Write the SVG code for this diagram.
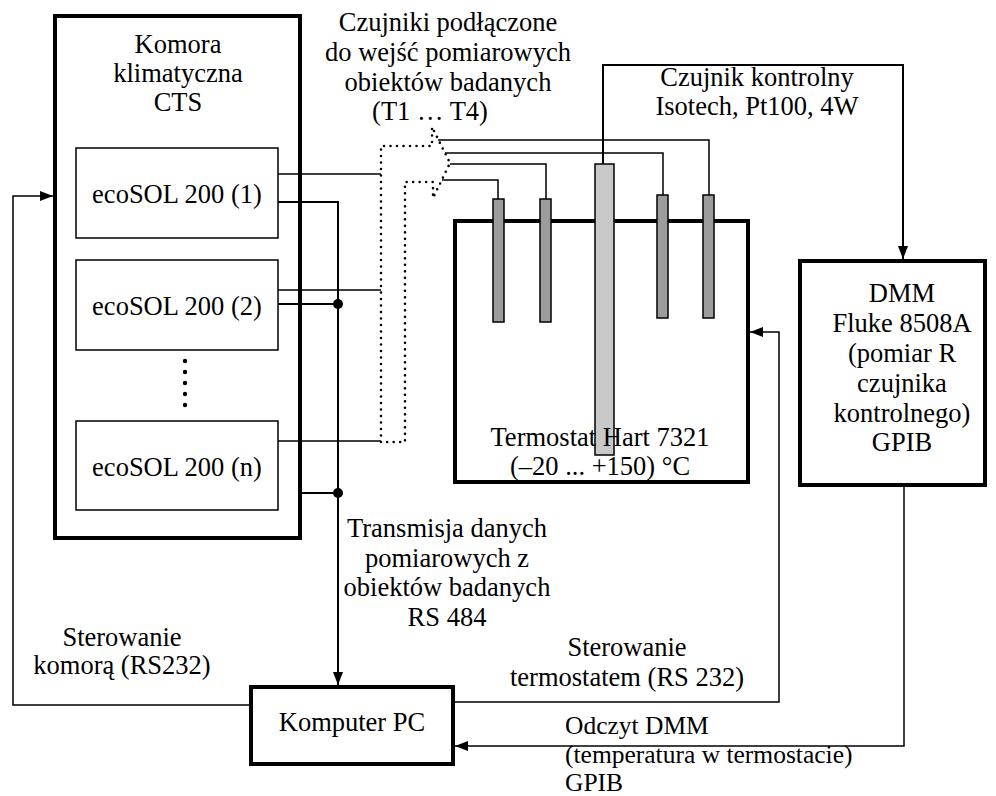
<svg xmlns="http://www.w3.org/2000/svg" width="996" height="796" viewBox="0 0 996 796">
  <style>
    text { font-family: "Liberation Serif", "Times New Roman", serif; font-size: 26.5px; fill: #000; }
    .c { text-anchor: middle; }
    .small { font-size: 25.5px; }
    .thick { fill: #fff; stroke: #000; stroke-width: 4; }
    .thin { fill: #fff; stroke: #000; stroke-width: 1.5; }
    .wire { fill: none; stroke: #000; stroke-width: 1.5; }
    .bus { fill: none; stroke: #000; stroke-width: 2; }
    .probe { fill: #9c9c9c; stroke: #000; stroke-width: 1.5; }
    .probe-ref { fill: #c8c8c8; stroke: #000; stroke-width: 1.5; }
    .dotted { fill: none; stroke: #000; stroke-width: 2.6; stroke-dasharray: 0 6.5; stroke-linecap: round; }
  </style>
  <defs>
    <marker id="arrow" viewBox="0 0 13 10" refX="13" refY="5" markerWidth="13" markerHeight="10" markerUnits="userSpaceOnUse" orient="auto">
      <path d="M0,0 L13,5 L0,10 z" fill="#000"/>
    </marker>
  </defs>

  <!-- climate chamber with loggers -->
  <g id="komora">
    <rect class="thick" x="55" y="16" width="245" height="522"/>
    <text class="c" x="178" y="53">Komora</text>
    <text class="c" x="178" y="82">klimatyczna</text>
    <text class="c" x="178" y="111">CTS</text>
  </g>
  <g id="ecosol-1">
    <rect class="thin" x="76" y="148" width="202" height="90"/>
    <text class="c" x="177" y="203">ecoSOL 200 (1)</text>
  </g>
  <g id="ecosol-2">
    <rect class="thin" x="76" y="260" width="202" height="90"/>
    <text class="c" x="177" y="315">ecoSOL 200 (2)</text>
  </g>
  <g id="ellipsis">
    <circle cx="185" cy="361" r="2.2"/>
    <circle cx="185" cy="372" r="2.2"/>
    <circle cx="185" cy="383" r="2.2"/>
    <circle cx="185" cy="394" r="2.2"/>
    <circle cx="185" cy="405" r="2.2"/>
  </g>
  <g id="ecosol-n">
    <rect class="thin" x="76" y="421" width="202" height="89"/>
    <text class="c" x="177" y="476">ecoSOL 200 (n)</text>
  </g>

  <!-- thermostat bath with probes -->
  <g id="termostat">
    <rect class="thick" x="455" y="221" width="293" height="261"/>
    <rect class="probe" x="493" y="199" width="11" height="123"/>
    <rect class="probe" x="540" y="199" width="11" height="123"/>
    <rect class="probe-ref" x="595" y="164" width="19" height="291"/>
    <rect class="probe" x="657" y="195" width="11" height="123"/>
    <rect class="probe" x="703" y="195" width="11" height="123"/>
    <text class="c" x="600" y="446">Termostat Hart 7321</text>
    <text class="c" x="600" y="475">(–20 ... +150) °C</text>
  </g>

  <g id="dmm">
    <rect class="thick" x="800" y="261" width="185" height="224"/>
    <text class="c" x="902" y="302">DMM</text>
    <text class="c" x="902" y="332">Fluke 8508A</text>
    <text class="c" x="902" y="362">(pomiar R</text>
    <text class="c" x="902" y="392">czujnika</text>
    <text class="c" x="902" y="422">kontrolnego)</text>
    <text class="c" x="902" y="451">GPIB</text>
  </g>

  <g id="komputer">
    <rect class="thick" x="251" y="687" width="202" height="77"/>
    <text class="c" x="352" y="731">Komputer PC</text>
  </g>

  <g id="connectors">
    <!-- sensor lines gathered into the dotted arrow -->
    <path class="wire" d="M278,174 H381 M278,290 H381 M278,441 H381"/>
    <polygon class="dotted" points="381,442 381,146 432,146 432,127 450,163 433,198 433,182 405,182 405,442"/>
    <path class="wire" d="M438,140 H709 V195 M445,153 H663 V195 M450,164 H546 V199 M442,180 H498 V199"/>
    <!-- reference probe to DMM -->
    <path class="bus" d="M603,164 V65 H903 V259" marker-end="url(#arrow)"/>
    <!-- RS 484 bus -->
    <path class="bus" d="M278,202 H338 V685" marker-end="url(#arrow)"/>
    <path class="bus" d="M278,304 H338 M300,493 H338"/>
    <circle cx="338" cy="304" r="5"/>
    <circle cx="338" cy="493" r="5"/>
    <!-- chamber control -->
    <path class="wire" d="M251,705 H13 V196 H53" marker-end="url(#arrow)"/>
    <!-- thermostat control -->
    <path class="wire" d="M453,702 H779 V332 H750" marker-end="url(#arrow)"/>
    <!-- DMM readout -->
    <path class="wire" d="M904,487 V746 H455" marker-end="url(#arrow)"/>
  </g>

  <g id="labels">
    <text class="c" x="448" y="31">Czujniki podłączone</text>
    <text class="c" x="448" y="61">do wejść pomiarowych</text>
    <text class="c" x="448" y="91">obiektów badanych</text>
    <text class="c" x="430" y="120">(T1 … T4)</text>
    <text class="c" x="757" y="86">Czujnik kontrolny</text>
    <text class="c" x="757" y="115">Isotech, Pt100, 4W</text>
    <text class="c" x="447" y="537">Transmisja danych</text>
    <text class="c" x="447" y="567">pomiarowych z</text>
    <text class="c" x="447" y="596">obiektów badanych</text>
    <text class="c" x="447" y="626">RS 484</text>
    <text class="c" x="122" y="646">Sterowanie</text>
    <text class="c" x="122" y="674">komorą (RS232)</text>
    <text class="c" x="627" y="656">Sterowanie</text>
    <text class="c" x="627" y="686">termostatem (RS 232)</text>
    <text class="small" x="565" y="734">Odczyt DMM</text>
    <text class="small" x="565" y="762.5">(temperatura w termostacie)</text>
    <text class="small" x="565" y="791">GPIB</text>
  </g>
</svg>
